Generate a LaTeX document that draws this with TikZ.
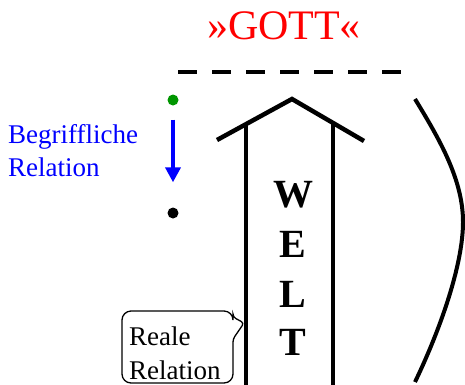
\documentclass[tikz,border=0pt]{standalone}
\usepackage{fontspec}
\setmainfont{Liberation Serif}
\usetikzlibrary{arrows.meta}
\definecolor{dotgreen}{RGB}{0,150,0}
\begin{document}
\begin{tikzpicture}[x=1pt,y=-1pt,
  wall/.style={line width=4.5pt},
  dot/.style={circle,inner sep=0pt,minimum size=11pt},
  bluetext/.style={blue,font=\fontsize{27}{32}\selectfont,anchor=base west,inner sep=0pt},
  boxtext/.style={font=\fontsize{27}{32}\selectfont,anchor=base west,inner sep=0pt},
  letter/.style={font=\fontsize{40}{40}\selectfont\bfseries,anchor=base,inner sep=0pt}]
\useasboundingbox (0,0) rectangle (465,384);

% title and dashed boundary
\node[red,font=\fontsize{42}{42}\selectfont,anchor=base,inner sep=0pt] (gott) at (284,39) {»GOTT«};
\coordinate (dashL) at (178,72);
\coordinate (dashR) at (401,72);
\draw[line width=4pt,dash pattern=on 19pt off 15pt] (dashL) -- (dashR);

% conceptual relation
\node[dot,fill=dotgreen] (top) at (173,100) {};
\node[dot,fill=black] (bottom) at (173,213) {};
\draw[blue,line width=4pt,-{Triangle[length=15pt,width=15pt]},
  shorten <=14pt,shorten >=25pt] (top) -- (bottom);
\node[bluetext] (begr1) at (8,143) {Begriffliche};
\node[bluetext] (begr2) at (8,176) {Relation};

% the world as a house
\coordinate (roofL) at (217,140);
\coordinate (apex) at (292,99);
\coordinate (roofR) at (364,141);
\draw[wall] (roofL) -- (apex) -- (roofR);
\coordinate (wallLt) at (246,123.5);
\coordinate (wallLb) at (246,386);
\coordinate (wallRt) at (333,123);
\coordinate (wallRb) at (333,386);
\draw[wall] (wallLt) -- (wallLb);
\draw[wall] (wallRt) -- (wallRb);
\node[letter] (W) at (293,207) {W};
\node[letter] (E) at (293,257) {E};
\node[letter] (L) at (293,307) {L};
\node[letter] (T) at (293,355) {T};

% bracket on the right
\coordinate (arcT) at (415,99);
\coordinate (arcM) at (463,222);
\coordinate (arcB) at (415,382);
\draw[line width=4pt] (arcT) .. controls (440,140) and (463,180) .. (arcM)
  .. controls (463,265) and (440,330) .. (arcB);

% callout for the real relation
\coordinate (tip) at (244,323);
\draw[line width=1.3pt,rounded corners=9pt]
  (122,350) -- (122,311) -- (233,311) [rounded corners=3pt] -- (233,317) -- (tip)
  -- (233,339) [rounded corners=9pt] -- (233,383) -- (122,383) -- cycle;
\node[boxtext] (reale1) at (129,345) {Reale};
\node[boxtext] (reale2) at (129,379) {Relation};
\end{tikzpicture}
\end{document}
